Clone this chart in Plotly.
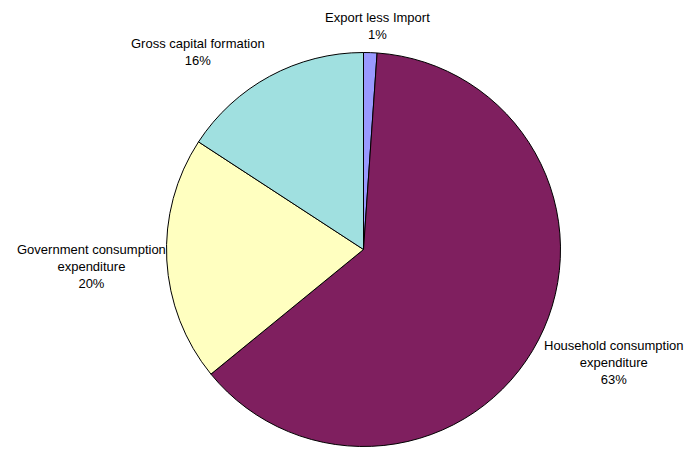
import plotly.graph_objects as go

labels = ["Export less Import", "Household consumption<br>expenditure",
          "Government consumption<br>expenditure", "Gross capital formation"]
values = [1.1, 63.0, 20.1, 15.8]
colors = ["#9999FF", "#7F1F5F", "#FFFFC0", "#A0E0E0"]

W, H = 685, 451
cx, cy, r = 363.5, 249.5, 197

fig = go.Figure(go.Pie(
    labels=labels, values=values, sort=False, direction="clockwise", rotation=0,
    marker=dict(colors=colors, line=dict(color="black", width=1)),
    textinfo="none", hoverinfo="label+percent", showlegend=False,
    domain=dict(x=[(cx - r) / W, (cx + r) / W], y=[(H - cy - r) / H, (H - cy + r) / H]),
))

# label anchor positions (pixels from top-left), same order as labels
label_pos = [(377, 26), (613, 362), (91, 266), (198, 52)]
total = sum(values)
for lab, v, (px, py) in zip(labels, values, label_pos):
    fig.add_annotation(
        x=px / W, y=1 - py / H, xref="paper", yref="paper",
        text=f"{lab}<br>{round(v / total * 100)}%", showarrow=False,
        xanchor="center", yanchor="middle", align="center",
        font=dict(family="Liberation Sans, Arial, sans-serif", size=13, color="black"),
    )

fig.update_layout(width=W, height=H, margin=dict(l=0, r=0, t=0, b=0),
                  paper_bgcolor="white", plot_bgcolor="white")
fig.write_html("out.html")
